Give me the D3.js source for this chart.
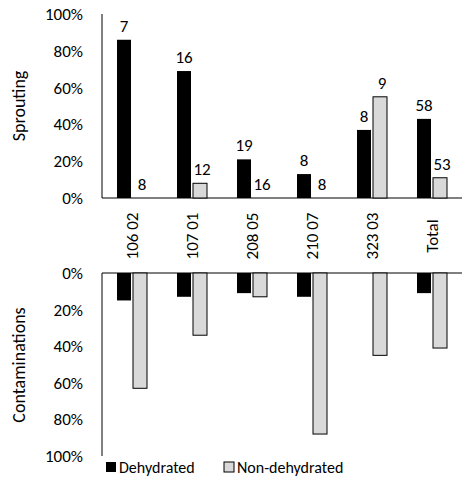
<!DOCTYPE html><html><head><meta charset="utf-8"><script src="https://cdn.jsdelivr.net/npm/d3@7"></script>
<style>body{margin:0;background:#fff}text{font-family:Calibri,Carlito,"Open Sans",Arial,sans-serif}</style></head><body><svg width="474" height="489"></svg><script>
const categories=["106 02","107 01","208 05","210 07","323 03","Total"];
const sproutDehy=[86,69,21,13,37,43];
const sproutNon=[0,8,0,0,55,11];
const labelDehy=["7","16","19","8","8","58"];
const labelNon=["8","12","16","8","9","53"];
const contDehy=[15,13,11,13,0,11];
const contNon=[63,34,13,88,45,41];
const ticks=[0,20,40,60,80,100];
const svg=d3.select("svg");
const x=d3.scaleBand().domain(categories).range([102,462]);
const yT=d3.scaleLinear().domain([0,100]).range([198,14]);
const yB=d3.scaleLinear().domain([0,100]).range([273,456]);
const bw=14, off=15;
function axisY(y){const g=svg.append("g");
 g.selectAll("text").data(ticks).join("text").attr("x",83).attr("y",d=>y(d)).attr("dy","0.35em").attr("text-anchor","end").attr("font-size",17).text(d=>d+"%");
 g.append("line").attr("x1",102).attr("x2",102).attr("y1",y(0)).attr("y2",y(100)).attr("stroke","#000");}
axisY(yT);axisY(yB);
svg.append("line").attr("x1",102).attr("x2",462).attr("y1",198).attr("y2",198).attr("stroke","#000");
svg.append("line").attr("x1",102).attr("x2",462).attr("y1",273).attr("y2",273).attr("stroke","#000");
categories.forEach((c,i)=>{const x0=x(c)+off;
 svg.append("rect").attr("x",x0).attr("width",bw).attr("y",yT(sproutDehy[i])).attr("height",yT(0)-yT(sproutDehy[i])).attr("fill","#000");
 svg.append("rect").attr("x",x0+bw+2).attr("width",bw).attr("y",yT(sproutNon[i])).attr("height",yT(0)-yT(sproutNon[i])).attr("fill","#d9d9d9").attr("stroke","#000").attr("stroke-width",sproutNon[i]?1:0);
 svg.append("text").attr("x",x0+bw/2).attr("y",yT(sproutDehy[i])-8).attr("text-anchor","middle").attr("font-size",17).text(labelDehy[i]);
 svg.append("text").attr("x",x0+bw*1.5+4).attr("y",yT(sproutNon[i])-8).attr("text-anchor","middle").attr("font-size",17).text(labelNon[i]);
 svg.append("rect").attr("x",x0).attr("width",bw).attr("y",yB(0)).attr("height",yB(contDehy[i])-yB(0)).attr("fill","#000");
 svg.append("rect").attr("x",x0+bw+2).attr("width",bw).attr("y",yB(0)).attr("height",yB(contNon[i])-yB(0)).attr("fill","#d9d9d9").attr("stroke","#000").attr("stroke-width",contNon[i]?1:0);
 svg.append("text").attr("transform",`translate(${x(c)+x.bandwidth()/2+6},236) rotate(-90)`).attr("text-anchor","middle").attr("font-size",17).text(c);
});
svg.append("text").attr("transform","translate(25,106) rotate(-90)").attr("text-anchor","middle").attr("font-size",18).text("Sprouting");
svg.append("text").attr("transform","translate(25,365) rotate(-90)").attr("text-anchor","middle").attr("font-size",18).text("Contaminations");
const leg=svg.append("g");
leg.append("rect").attr("x",106).attr("y",462).attr("width",10).attr("height",10).attr("fill","#000");
leg.append("text").attr("x",119).attr("y",473).attr("font-size",16).text("Dehydrated");
leg.append("rect").attr("x",224).attr("y",462).attr("width",10).attr("height",10).attr("fill","#d9d9d9").attr("stroke","#000");
leg.append("text").attr("x",237).attr("y",473).attr("font-size",16).text("Non-dehydrated");
</script></body></html>
